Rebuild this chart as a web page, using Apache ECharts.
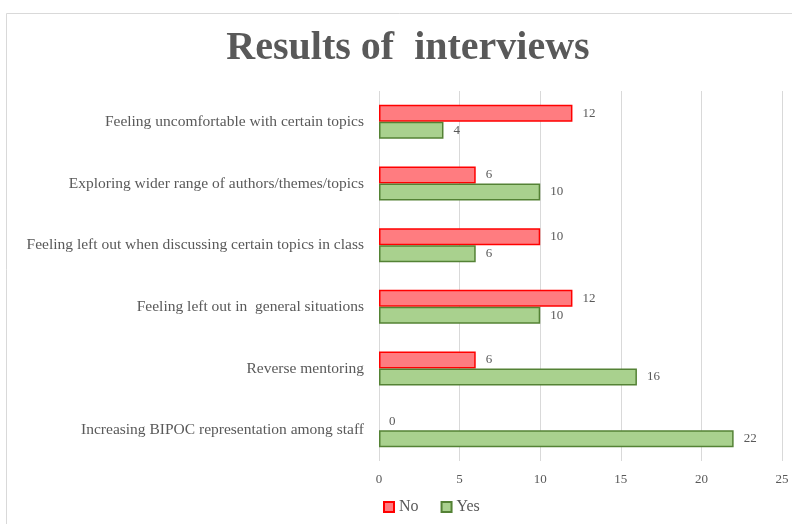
<!DOCTYPE html>
<html>
<head>
<meta charset="utf-8">
<script src="https://cdn.jsdelivr.net/npm/echarts@6/dist/echarts.min.js"></script>
<style>
  html, body { margin: 0; padding: 0; background: #fff; }
  #chart { width: 792px; height: 524px; }
</style>
</head>
<body>
<div id="chart"></div>
<script>
var chart = echarts.init(document.getElementById('chart'));

var categories = [
  'Feeling uncomfortable with certain topics',
  'Exploring wider range of authors/themes/topics',
  'Feeling left out when discussing certain topics in class',
  'Feeling left out in  general situations',
  'Reverse mentoring',
  'Increasing BIPOC representation among staff'
];
var noValues = [12, 6, 10, 12, 6, 0];
var yesValues = [4, 10, 6, 10, 16, 22];

var serif = '"Liberation Serif", "DejaVu Serif", serif';

var labelStyle = {
  show: true,
  position: 'right',
  distance: 10,
  color: '#595959',
  fontFamily: serif,
  fontSize: 13
};

// zero-length bars get no outline, as in the original
function toItems(values) {
  return values.map(function (v) {
    return v === 0 ? { value: v, itemStyle: { borderWidth: 0 } } : v;
  });
}

var option = {
  backgroundColor: '#fff',
  animation: false,
  graphic: [{
    type: 'rect',
    shape: { x: 6.5, y: 13.5, width: 800, height: 520 },
    style: { fill: 'none', stroke: '#d9d9d9', lineWidth: 1 },
    silent: true
  }],
  title: {
    text: 'Results of  interviews',
    left: 403,
    textAlign: 'center',
    top: 24,
    textStyle: {
      fontFamily: serif,
      fontSize: 40,
      fontWeight: 'bold',
      color: '#595959'
    }
  },
  legend: {
    bottom: 4,
    left: 378,
    icon: 'rect',
    itemWidth: 10,
    itemHeight: 10,
    itemGap: 22,
    textStyle: { fontFamily: serif, fontSize: 16, color: '#595959' },
    data: ['No', 'Yes']
  },
  grid: {
    left: 379,
    right: 10,
    top: 91,
    bottom: 63,
    containLabel: false
  },
  xAxis: {
    type: 'value',
    min: 0,
    max: 25,
    interval: 5,
    axisLine: { show: false },
    axisTick: { show: false },
    axisLabel: { color: '#595959', fontFamily: serif, fontSize: 13, margin: 12 },
    splitLine: { lineStyle: { color: '#d9d9d9' } }
  },
  yAxis: {
    type: 'category',
    inverse: true,
    data: categories,
    axisLine: { show: false },
    axisTick: { show: false },
    axisLabel: { color: '#595959', fontFamily: serif, fontSize: 15.5, margin: 15 }
  },
  series: [
    {
      name: 'No',
      type: 'bar',
      data: toItems(noValues),
      barWidth: 17,
      barGap: '0%',
      itemStyle: { color: '#ff7c80', borderColor: '#ff0000', borderWidth: 1.5 },
      label: labelStyle
    },
    {
      name: 'Yes',
      type: 'bar',
      data: toItems(yesValues),
      barWidth: 17,
      barGap: '0%',
      itemStyle: { color: '#a9d18e', borderColor: '#548235', borderWidth: 1.5 },
      label: labelStyle
    }
  ]
};

chart.setOption(option);
</script>
</body>
</html>
